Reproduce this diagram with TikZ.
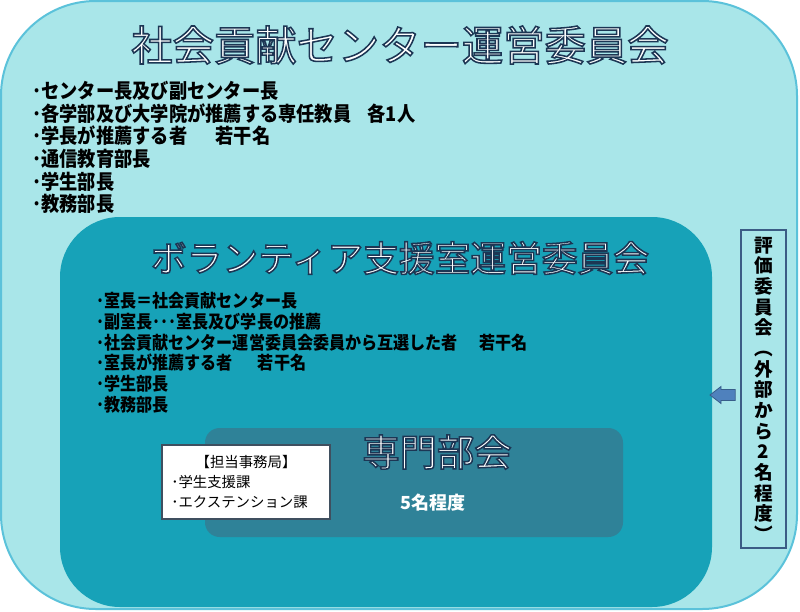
\documentclass[tikz,border=0pt]{standalone}
\usepackage{fontspec}
\setmainfont{Noto Sans CJK JP}
\newfontfamily\listfont[FakeStretch=0.9]{Noto Sans CJK JP}
\definecolor{outerfill}{HTML}{A9E6E9}
\definecolor{outerline}{HTML}{5BC2DA}
\definecolor{innerfill}{HTML}{17A2B8}
\definecolor{specfill}{HTML}{2F8298}
\definecolor{vboxline}{HTML}{3B5C85}
\definecolor{arrowfill}{HTML}{4F81BD}
\definecolor{arrowline}{HTML}{385D8A}
\definecolor{officeline}{HTML}{3F4F5F}
\newcommand\oltext[1]{\special{pdf:literal direct 2 Tr 1.15 w 0.11 0.21 0.33 RG}#1\special{pdf:literal direct 0 Tr}}
\tikzset{
  title/.style={inner sep=0pt, anchor=center, text=white},
}
\begin{document}
\begin{tikzpicture}[x=0.75pt,y=-0.75pt]
\useasboundingbox (0,0) rectangle (800,611);
% outer box
\draw[fill=outerfill, draw=outerline, line width=1.5pt, rounded corners=71pt] (1,1) rectangle (797,609);
\node[title, font=\fontsize{31pt}{36pt}\selectfont] (t1) at (400,45) {\oltext{社会貢献センター運営委員会}};
\node[inner sep=0pt, anchor=north west, align=left, font=\listfont\bfseries\fontsize{15.2pt}{17pt}\selectfont] (l1) at (32,81) {･センター長及び副センター長\\･各学部及び大学院が推薦する専任教員\hspace{0.8em}各1人\\･学長が推薦する者\hspace{1.4em}若干名\\･通信教育部長\\･学生部長\\･教務部長};
% inner box
\draw[fill=innerfill, draw=none, rounded corners=45pt] (60,217) rectangle (712,607);
\node[title, font=\fontsize{26.8pt}{32pt}\selectfont] (t2) at (400,258) {\oltext{ボランティア支援室運営委員会}};
\node[inner sep=0pt, anchor=north west, align=left, font=\listfont\bfseries\fontsize{13.4pt}{15.6pt}\selectfont] (l2) at (96,292) {･室長＝社会貢献センター長\\･副室長･･･室長及び学長の推薦\\･社会貢献センター運営委員会委員から互選した者\hspace{1.2em}若干名\\･室長が推薦する者\hspace{1.4em}若干名\\･学生部長\\･教務部長};
% special committee box
\draw[fill=specfill, draw=none, rounded corners=11pt] (205,428) rectangle (623,537);
\node[title, font=\fontsize{28pt}{32pt}\selectfont] (t3) at (437,452) {\oltext{専門部会}};
\node[inner sep=0pt, text=white, font=\bfseries\fontsize{13.5pt}{16pt}\selectfont] (n5) at (433,503) {5名程度};
% office box
\node[draw=officeline, line width=0.8pt, fill=white, minimum width=126pt, minimum height=55.5pt, inner sep=0pt, align=left, font=\fontsize{10.8pt}{15.2pt}\selectfont] (office) at (246,482) {\makebox[112pt][c]{【担当事務局】}\\･学生支援課\\･エクステンション課\hfill\null};
% evaluation committee
\node[draw=vboxline, line width=1.2pt, fill=outerfill, minimum width=33.75pt, minimum height=238.5pt, inner sep=0pt, align=center, font=\bfseries\fontsize{14pt}{15.5pt}\selectfont] (vbox) at (763.5,389) {評\\価\\委\\員\\会\\︵\\外\\部\\か\\ら\\2\\名\\程\\度\\︶};
% arrow from evaluation committee to the steering committee
\draw[fill=arrowfill, draw=arrowline, line width=0.6pt] (710,395) -- (721,386.5) -- (721,389.5) -- ([xshift=-3.75pt]vbox.west |- 0,389.5) -- ([xshift=-3.75pt]vbox.west |- 0,400.5) -- (721,400.5) -- (721,403.5) -- cycle;
\end{tikzpicture}
\end{document}
